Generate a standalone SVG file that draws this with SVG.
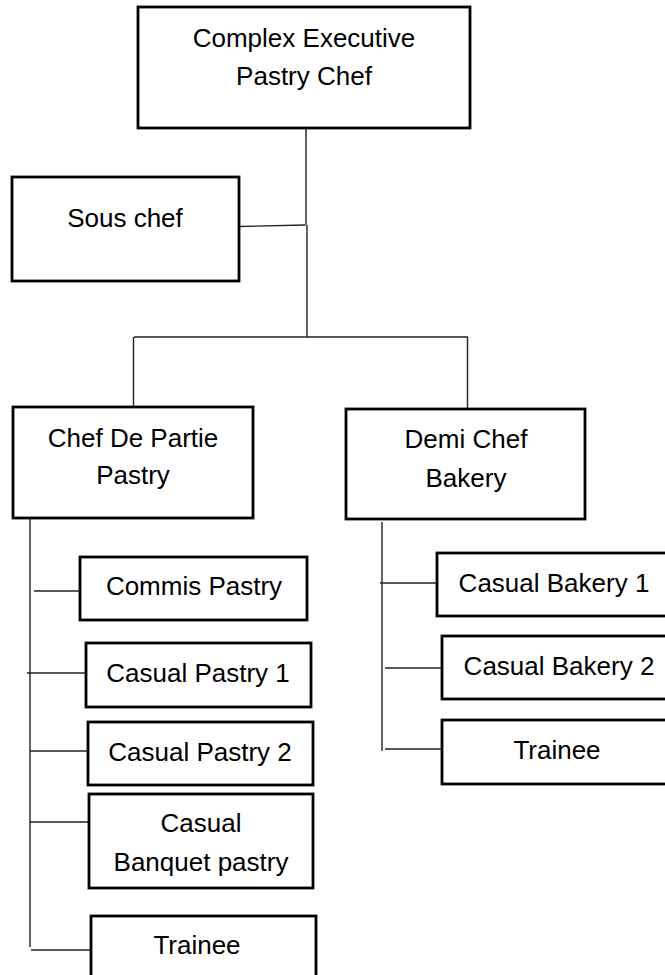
<svg xmlns="http://www.w3.org/2000/svg" width="665" height="975" viewBox="0 0 665 975">
<style>
.box{fill:#fff;stroke:#000;stroke-width:2.8}
.t{font-family:"Liberation Sans",Arial,sans-serif;font-size:26px;fill:#000;text-anchor:middle}
.c{stroke:#222;stroke-width:1.4;fill:none}
</style>
<rect width="665" height="975" fill="#fff"/>
<g id="connectors">
<line class="c" x1="306" y1="128" x2="306" y2="225.5"/>
<line class="c" x1="239" y1="226.5" x2="305" y2="225"/>
<line class="c" x1="307" y1="225" x2="307" y2="337"/>
<line class="c" x1="134" y1="337" x2="468" y2="337"/>
<line class="c" x1="133.5" y1="337" x2="133.5" y2="407"/>
<line class="c" x1="467.5" y1="337" x2="467.5" y2="409"/>
<line class="c" x1="30" y1="518" x2="30" y2="947"/>
<line class="c" x1="34" y1="591" x2="80" y2="591"/>
<line class="c" x1="27" y1="673" x2="86" y2="673"/>
<line class="c" x1="30" y1="751" x2="88" y2="751"/>
<line class="c" x1="30" y1="822" x2="89" y2="822"/>
<line class="c" x1="31" y1="950" x2="91" y2="950"/>
<line class="c" x1="382" y1="522" x2="382" y2="751"/>
<line class="c" x1="380" y1="583" x2="437" y2="583"/>
<line class="c" x1="385" y1="668" x2="442" y2="668"/>
<line class="c" x1="385" y1="749" x2="442" y2="749"/>
</g>
<g id="n-exec">
<rect class="box" x="138" y="7" width="332" height="121"/>
<text class="t" x="304" y="47">Complex Executive</text>
<text class="t" x="304" y="85">Pastry Chef</text>
</g>
<g id="n-sous">
<rect class="box" x="12" y="177" width="227" height="104"/>
<text class="t" x="125" y="227">Sous chef</text>
</g>
<g id="n-cdp">
<rect class="box" x="13" y="407" width="240" height="111"/>
<text class="t" x="133" y="447">Chef De Partie</text>
<text class="t" x="133" y="484">Pastry</text>
</g>
<g id="n-demi">
<rect class="box" x="346" y="409" width="239" height="110"/>
<text class="t" x="466" y="448">Demi Chef</text>
<text class="t" x="466" y="487">Bakery</text>
</g>
<g id="n-commis">
<rect class="box" x="80" y="557" width="227" height="63"/>
<text class="t" x="194" y="595">Commis Pastry</text>
</g>
<g id="n-cp1">
<rect class="box" x="86" y="643" width="225" height="64"/>
<text class="t" x="198" y="682">Casual Pastry 1</text>
</g>
<g id="n-cp2">
<rect class="box" x="88" y="722" width="225" height="63"/>
<text class="t" x="200" y="761">Casual Pastry 2</text>
</g>
<g id="n-banquet">
<rect class="box" x="89" y="794" width="224" height="94"/>
<text class="t" x="201" y="832">Casual</text>
<text class="t" x="201" y="871">Banquet pastry</text>
</g>
<g id="n-trainee-p">
<rect class="box" x="91" y="916" width="225" height="70"/>
<text class="t" x="197" y="954">Trainee</text>
</g>
<g id="n-cb1">
<rect class="box" x="437" y="553" width="240" height="63"/>
<text class="t" x="554" y="592">Casual Bakery 1</text>
</g>
<g id="n-cb2">
<rect class="box" x="442" y="636" width="240" height="63"/>
<text class="t" x="559" y="675">Casual Bakery 2</text>
</g>
<g id="n-trainee-b">
<rect class="box" x="442" y="720" width="240" height="64"/>
<text class="t" x="557" y="759">Trainee</text>
</g>
</svg>
